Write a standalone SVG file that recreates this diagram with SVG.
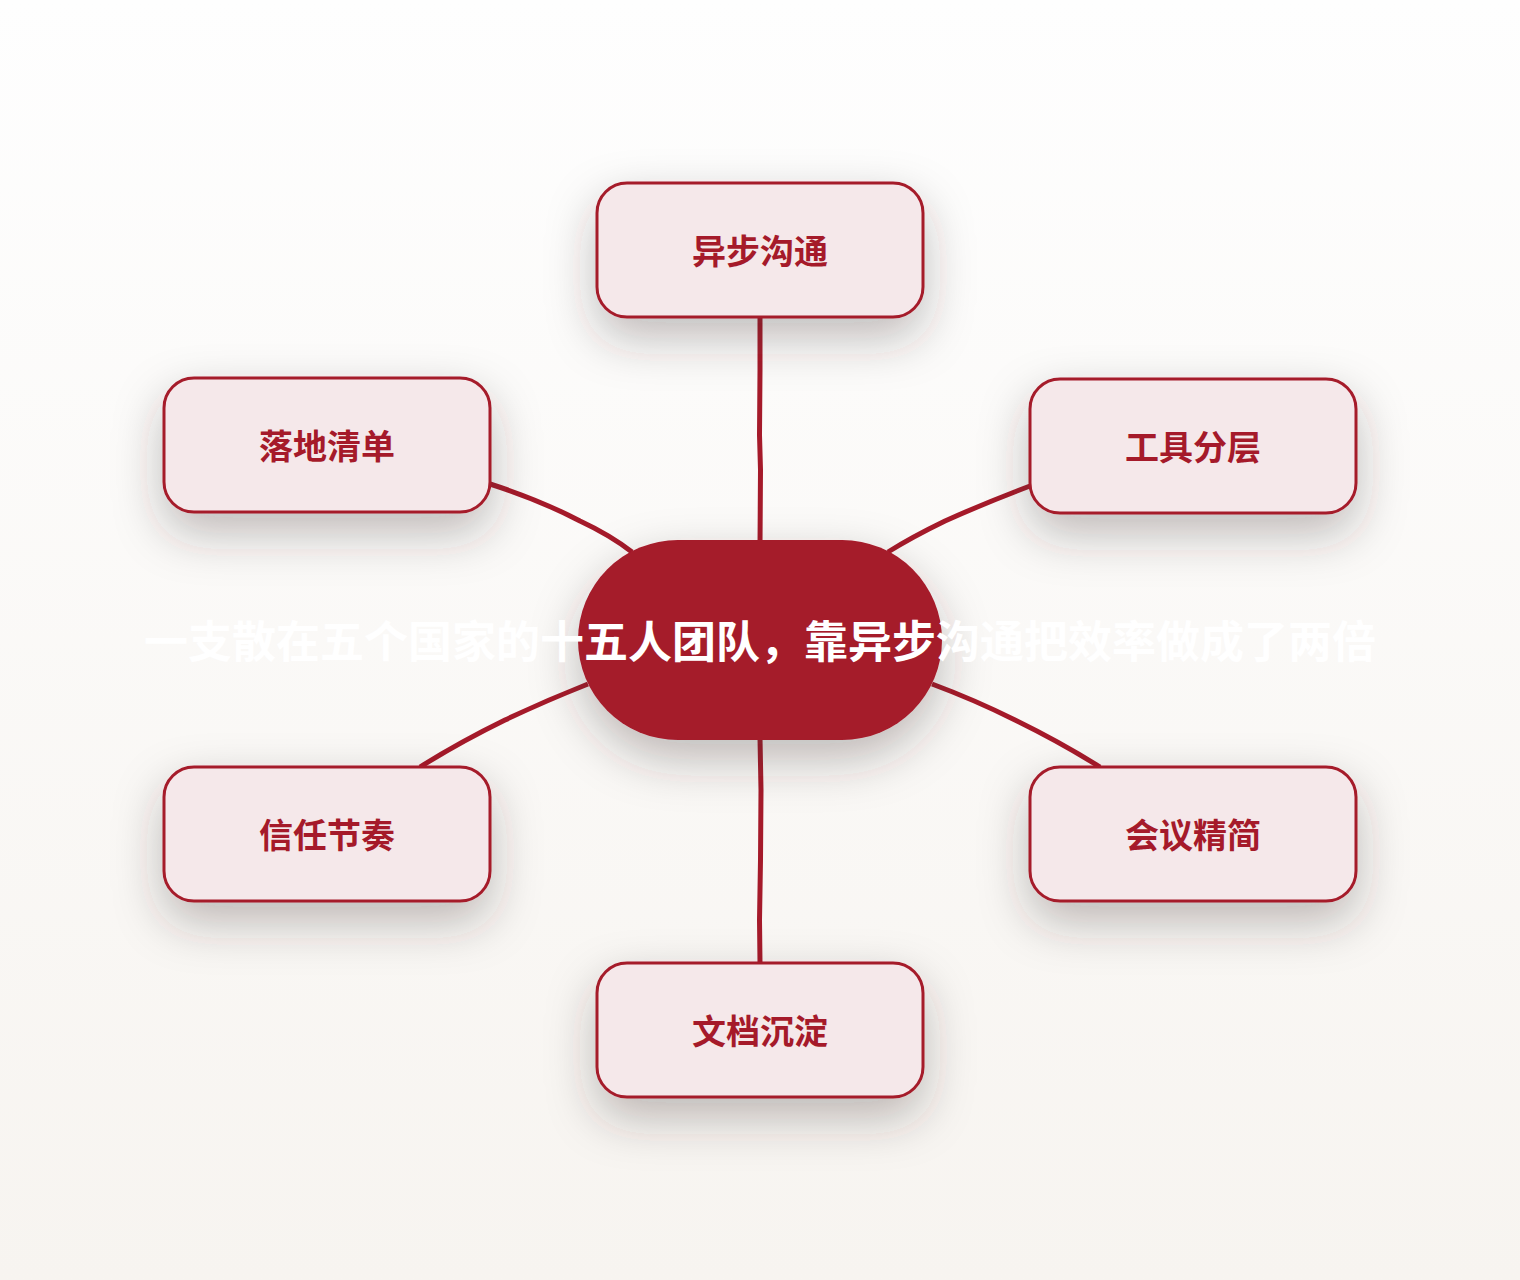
<svg xmlns="http://www.w3.org/2000/svg" width="1520" height="1280" viewBox="0 0 1520 1280">
<defs>
<linearGradient id="bg" x1="0" y1="0" x2="0" y2="1">
<stop offset="0" stop-color="#fefefe"/>
<stop offset="1" stop-color="#f7f4f0"/>
</linearGradient>
<filter id="sh" x="-40%" y="-60%" width="180%" height="240%">
<feDropShadow dx="0" dy="20" stdDeviation="24" flood-color="#3a2e28" flood-opacity="0.3"/>
</filter>
</defs>
<style>
.node rect{fill:#f5e8ea;stroke:#a51a2a;stroke-width:3}
.node text{font-family:"Noto Sans CJK SC","Noto Sans",sans-serif;font-weight:700;font-size:34px;fill:#a51a2a;text-anchor:middle}
.edges path{fill:none;stroke:#a51a2a;stroke-width:5;stroke-linecap:butt;stroke-linejoin:round}
.hub rect{fill:#a51a2a}
.hub text{font-family:"Noto Sans CJK SC","Noto Sans",sans-serif;font-weight:700;font-size:44px;fill:#ffffff;text-anchor:middle}
</style>
<rect width="1520" height="1280" fill="url(#bg)"/>
<g class="edges" stroke="#a51a2a" stroke-width="5" fill="none">
<path d="M760 317 L760 370 L759.5 435 L760.5 470 L760 545"/>
<path d="M490 484 Q540 500 580 521 Q610 535 632 552"/>
<path d="M1030 486 Q985 503 945 521 Q912 537 888 552"/>
<path d="M420 767 Q460 742 505 720 Q545 701 588 684"/>
<path d="M1100 767 Q1060 742 1015 720 Q975 700 932 684"/>
<path d="M760 738 L761 790 L760.5 860 L759.5 920 L760 963"/>
</g>
<g id="hub" class="hub">
<rect x="578" y="540" width="364" height="200" rx="100" filter="url(#sh)"/>
<text x="760" y="658">一支散在五个国家的十五人团队，靠异步沟通把效率做成了两倍</text>
</g>
<g id="n1" class="node">
<rect x="597" y="183" width="326" height="134" rx="30" filter="url(#sh)"/>
<text x="760" y="264">异步沟通</text>
</g>
<g id="n2" class="node">
<rect x="1030" y="379" width="326" height="134" rx="30" filter="url(#sh)"/>
<text x="1193" y="460">工具分层</text>
</g>
<g id="n3" class="node">
<rect x="1030" y="767" width="326" height="134" rx="30" filter="url(#sh)"/>
<text x="1193" y="848">会议精简</text>
</g>
<g id="n4" class="node">
<rect x="597" y="963" width="326" height="134" rx="30" filter="url(#sh)"/>
<text x="760" y="1044">文档沉淀</text>
</g>
<g id="n5" class="node">
<rect x="164" y="767" width="326" height="134" rx="30" filter="url(#sh)"/>
<text x="327" y="848">信任节奏</text>
</g>
<g id="n6" class="node">
<rect x="164" y="378" width="326" height="134" rx="30" filter="url(#sh)"/>
<text x="327" y="459">落地清单</text>
</g>
</svg>
